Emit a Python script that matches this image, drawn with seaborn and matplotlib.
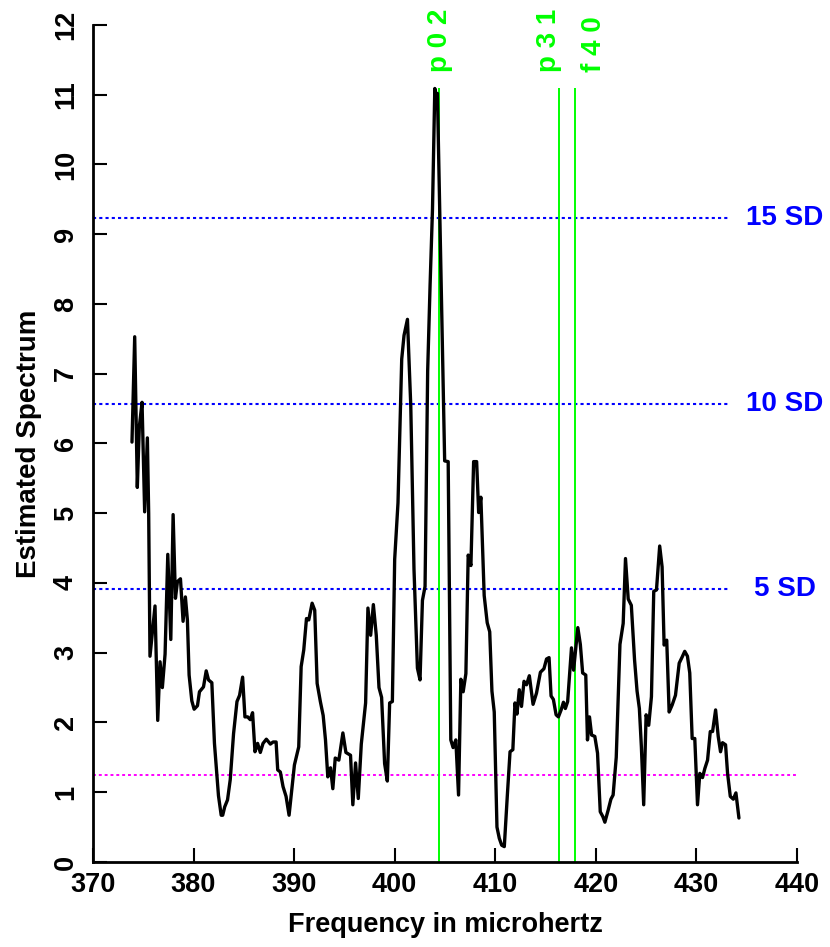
import matplotlib
matplotlib.use("Agg")
import matplotlib.pyplot as plt
import seaborn as sns
import pandas as pd

# Smoothed power spectrum (frequency in microhertz, estimated spectrum)
freq = [
    373.88, 374.15, 374.41, 374.61, 374.88, 375.14, 375.41, 375.54, 375.67, 376.17,
    376.44, 376.67, 376.90, 377.17, 377.44, 377.74, 377.97, 378.20, 378.40, 378.70,
    378.96, 379.19, 379.39, 379.56, 379.83, 380.06, 380.39, 380.59, 380.99, 381.26,
    381.49, 381.82, 382.08, 382.48, 382.75, 382.90, 383.10, 383.38, 383.65, 383.98,
    384.32, 384.58, 384.88, 385.11, 385.38, 385.64, 385.87, 386.11, 386.37, 386.64,
    386.91, 387.24, 387.64, 387.91, 388.21, 388.37, 388.63, 388.90, 389.20, 389.50,
    389.80, 390.03, 390.46, 390.70, 390.96, 391.23, 391.46, 391.79, 392.05, 392.29,
    392.61, 392.89, 393.12, 393.35, 393.62, 393.85, 394.09, 394.45, 394.85, 395.15,
    395.61, 395.84, 396.11, 396.38, 396.68, 397.11, 397.34, 397.61, 397.88, 398.17,
    398.44, 398.70, 399.00, 399.27, 399.50, 399.77, 400.00, 400.33, 400.70, 400.93,
    401.27, 401.60, 401.92, 402.26, 402.52, 402.76, 403.02, 403.28, 403.52, 403.76,
    403.99, 404.12, 404.25, 404.97, 405.32, 405.58, 405.81, 406.08, 406.35, 406.58,
    406.81, 407.08, 407.31, 407.58, 407.85, 408.15, 408.35, 408.57, 408.90, 409.20,
    409.45, 409.67, 409.90, 410.17, 410.40, 410.64, 410.90, 411.20, 411.47, 411.75,
    411.96, 412.16, 412.39, 412.61, 412.86, 413.11, 413.39, 413.76, 414.10, 414.49,
    414.84, 415.10, 415.35, 415.55, 415.78, 416.05, 416.28, 416.55, 416.78, 416.97,
    417.20, 417.58, 417.79, 418.21, 418.46, 418.69, 419.00, 419.17, 419.37, 419.58,
    419.90, 420.17, 420.44, 420.70, 420.90, 421.24, 421.50, 421.72, 422.03, 422.40,
    422.72, 422.95, 423.22, 423.53, 423.85, 424.10, 424.33, 424.53, 424.76, 425.00,
    425.26, 425.53, 425.76, 426.03, 426.35, 426.59, 426.79, 427.05, 427.29, 427.59,
    427.92, 428.29, 428.59, 428.84, 429.11, 429.34, 429.58, 429.84, 430.11, 430.34,
    430.61, 430.84, 431.11, 431.38, 431.61, 431.91, 432.17, 432.40, 432.60, 432.90,
    433.10, 433.37, 433.67, 433.93, 434.23,
]
power = [
    6.02, 7.53, 5.37, 6.24, 6.59, 5.02, 6.08, 5.00, 2.95, 3.67,
    2.03, 2.87, 2.50, 2.98, 4.41, 3.19, 4.98, 3.78, 4.02, 4.06,
    3.45, 3.80, 3.47, 2.68, 2.31, 2.19, 2.24, 2.44, 2.51, 2.74,
    2.61, 2.57, 1.70, 0.95, 0.67, 0.67, 0.79, 0.89, 1.18, 1.84,
    2.30, 2.39, 2.65, 2.08, 2.08, 2.04, 2.14, 1.58, 1.70, 1.57,
    1.70, 1.76, 1.69, 1.72, 1.72, 1.32, 1.29, 1.08, 0.94, 0.67,
    1.08, 1.39, 1.65, 2.80, 3.04, 3.49, 3.47, 3.71, 3.61, 2.56,
    2.30, 2.10, 1.75, 1.22, 1.35, 1.05, 1.49, 1.46, 1.85, 1.57,
    1.53, 0.82, 1.42, 0.91, 1.69, 2.28, 3.64, 3.25, 3.69, 3.25,
    2.50, 2.36, 1.41, 1.16, 2.28, 2.30, 4.34, 5.15, 7.21, 7.55,
    7.78, 6.54, 4.20, 2.78, 2.61, 3.75, 3.95, 7.04, 8.27, 9.36,
    11.09, 10.95, 11.02, 5.75, 5.74, 1.75, 1.64, 1.75, 0.96, 2.62,
    2.44, 2.70, 4.40, 4.25, 5.74, 5.74, 5.01, 5.23, 3.82, 3.43,
    3.30, 2.45, 2.15, 0.50, 0.34, 0.24, 0.22, 0.95, 1.58, 1.61,
    2.28, 2.12, 2.47, 2.23, 2.59, 2.54, 2.67, 2.26, 2.42, 2.72,
    2.77, 2.91, 2.93, 2.38, 2.33, 2.11, 2.08, 2.18, 2.29, 2.20,
    2.30, 3.07, 2.75, 3.36, 3.12, 2.71, 2.68, 1.75, 2.08, 1.82,
    1.80, 1.56, 0.72, 0.65, 0.57, 0.75, 0.90, 0.96, 1.50, 3.12,
    3.42, 4.35, 3.77, 3.68, 2.90, 2.45, 2.20, 1.65, 0.82, 2.11,
    1.96, 2.37, 3.88, 3.90, 4.53, 4.23, 3.11, 3.18, 2.15, 2.25,
    2.39, 2.85, 2.94, 3.02, 2.95, 2.71, 1.77, 1.77, 0.82, 1.27,
    1.21, 1.34, 1.46, 1.87, 1.87, 2.18, 1.80, 1.58, 1.71, 1.68,
    1.27, 0.94, 0.90, 0.99, 0.63,
]

# Mean level and significance levels
mean_level = 1.25
sd_levels = [3.91, 6.57, 9.24]
sd_labels = ["5 SD", "10 SD", "15 SD"]

# Mode identifications
mode_freqs = [404.40, 416.35, 417.95]
mode_labels = ["p 0 2", "p 3 1", "f 4 0"]
mode_label_x = [404.55, 415.35, 419.85]
mode_top = 11.1

x_ticks = [370, 380, 390, 400, 410, 420, 430, 440]
y_ticks = list(range(0, 13))

sns.set_style("white")
plt.rcParams["font.family"] = ["Liberation Sans", "DejaVu Sans"]
plt.rcParams["font.weight"] = "bold"
plt.rcParams["text.color"] = "black"
plt.rcParams["axes.labelcolor"] = "black"
plt.rcParams["xtick.color"] = "black"
plt.rcParams["ytick.color"] = "black"

fig = plt.figure(figsize=(8.30, 9.47), dpi=100)
ax = fig.add_axes([0.1120, 0.0898, 0.8482, 0.8838])

df = pd.DataFrame({"freq": freq, "power": power})

# significance lines
for lvl in sd_levels:
    ax.hlines(lvl, 370, 433.3, colors="#0000FF", linestyles=(0, (1.5, 1.5)), lw=1.5, zorder=1)
ax.hlines(mean_level, 370, 440, colors="#FF00FF", linestyles=(0, (1.5, 1.5)), lw=1.4, zorder=1)

sns.lineplot(data=df, x="freq", y="power", color="black", lw=2.4,
             estimator=None, sort=False, ax=ax, zorder=3)

# mode lines and labels
for mf, lab, lx in zip(mode_freqs, mode_labels, mode_label_x):
    ax.vlines(mf, 0, mode_top, colors="#00FF00", lw=1.4, zorder=2)
    ax.text(lx, 11.33, lab, rotation=90, ha="center", va="bottom", color="#00FF00",
            fontsize=20, fontweight="bold", clip_on=False)

for lvl, lab in zip(sd_levels, sd_labels):
    ax.text(438.8, lvl, lab, ha="center", va="center", color="#0000FF",
            fontsize=20, fontweight="bold", clip_on=False)

ax.set_xlim(370, 440)
ax.set_ylim(0, 12)
ax.set_xticks(x_ticks)
ax.set_yticks(y_ticks)
ax.set_xticklabels([str(t) for t in x_ticks], fontsize=19.5, fontweight="bold", color="black")
ax.set_yticklabels([str(t) for t in y_ticks], fontsize=19.5, fontweight="bold",
                   rotation=90, va="center", color="black")
ax.tick_params(axis="both", direction="in", length=10, width=1.5, color="black",
               bottom=True, left=True, top=False, right=False)
ax.tick_params(axis="x", pad=7)
ax.tick_params(axis="y", pad=10)

for side in ["top", "right"]:
    ax.spines[side].set_visible(False)
for side in ["left", "bottom"]:
    ax.spines[side].set_linewidth(2.0)
    ax.spines[side].set_color("black")

ax.set_xlabel("Frequency in microhertz", fontsize=19.5, fontweight="bold",
              labelpad=10, color="black")
ax.set_ylabel("Estimated Spectrum", fontsize=20, fontweight="bold",
              labelpad=8, color="black")

fig.savefig("out.png", dpi=100)
